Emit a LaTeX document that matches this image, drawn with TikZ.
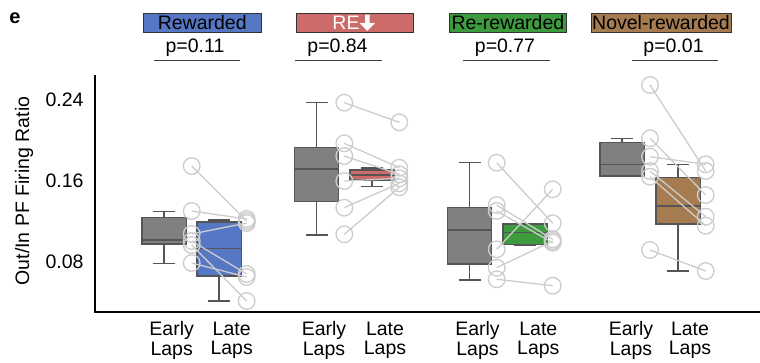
\documentclass[tikz,border=0pt]{standalone}
\usepackage{fontspec}
\setmainfont{Liberation Sans}
\definecolor{boxgray}{HTML}{808080}
\definecolor{edgegray}{HTML}{555555}
\definecolor{rewblue}{HTML}{5677C4}
\definecolor{rered}{HTML}{CD6B6B}
\definecolor{regreen}{HTML}{3D9A3D}
\definecolor{novbrown}{HTML}{A67B50}
\definecolor{dotgray}{HTML}{CCCCCC}
\newcommand\myfont{\fontsize{19.5}{19.4}\selectfont}
\newcommand\bplot[7]{%
  \draw[whisk] (#1,#5) -- (#1,#2) (#1,#3) -- (#1,#6)
    (#1-11,#5) -- (#1+11,#5) (#1-11,#6) -- (#1+11,#6);
  \draw[bx,fill=#7] (#1-22.2,#2) rectangle (#1+22.2,#3);
  \draw[whisk] (#1-22.2,#4) -- (#1+22.2,#4);
}
\newcommand\dpair[5]{%
  \node[dot] (#1e) at (#2,#3) {};
  \node[dot] (#1l) at (#4,#5) {};
  \draw[conn] (#1e.center) -- (#1l.center);
}
\begin{document}
\begin{tikzpicture}[x=1pt,y=-1pt,
  whisk/.style={draw=edgegray,line width=1.4pt},
  bx/.style={draw=edgegray,line width=1.4pt},
  dot/.style={circle,draw=dotgray,line width=1.3pt,minimum size=16.6pt,inner sep=0pt},
  conn/.style={draw=dotgray,line width=1.3pt},
  hdr/.style={draw=black!80,line width=0.8pt,minimum width=#1,minimum height=19.4pt,inner sep=0pt,font=\myfont},
  ptxt/.style={font=\myfont,anchor=base},
  pline/.style={draw=black!75,line width=1.4pt},
  tick/.style={font=\myfont,anchor=east},
  xlab/.style={font=\myfont,align=center,inner sep=0pt}]
\useasboundingbox (0,0) rectangle (760,362);

% panel letter
\node[font=\fontsize{20}{20}\selectfont\bfseries] (letter) at (15,18) {e};

% axes
\coordinate (ytop) at (95,75);
\coordinate (orig) at (95,312);
\coordinate (xend) at (760,312);
\draw[line width=1.5pt] (ytop) -- (orig) -- (xend);

% y ticks
\node[tick] (t24) at (87,100) {0.24};
\node[tick] (t16) at (87,181) {0.16};
\node[tick] (t08) at (87,262) {0.08};
\node[font=\myfont,rotate=90] (ylab) at (24,191) {Out/In PF Firing Ratio};

% headers
\node[hdr=117.7pt,fill=rewblue] (h1) at (202.2,23) {Rewarded};
\node[hdr=117pt,fill=rered] (h2) at (354.5,23) {};
\node[font=\myfont,text=white,inner sep=0pt] (h2t) at (346,23) {RE};
\fill[white] (365,14.5) -- (369.5,14.5) -- (369.5,23) -- (375,23) -- (367.25,31) -- (359.5,23) -- (365,23) -- cycle;
\node[hdr=117.7pt,fill=regreen] (h3) at (507.9,23) {Re-rewarded};
\node[hdr=140pt,fill=novbrown] (h4) at (661,23) {Novel-rewarded};

% p values
\node[ptxt] (p1) at (195,52.5) {p=0.11};
\node[ptxt] (p2) at (337.5,52.5) {p=0.84};
\node[ptxt] (p3) at (505,52.5) {p=0.77};
\node[ptxt] (p4) at (673.5,52.5) {p=0.01};
\draw[pline] (154,60.7) -- (240,60.7);
\draw[pline] (295,60.7) -- (382,60.7);
\draw[pline] (463,60.7) -- (550,60.7);
\draw[pline] (632,60.7) -- (718,60.7);

% box plots
\bplot{164}{217.3}{244}{240}{211.7}{263.3}{boxgray}
\bplot{219}{222}{276}{248.3}{220}{301}{rewblue}
\bplot{316.5}{147.3}{201.7}{169}{102.7}{235}{boxgray}
\bplot{372}{170}{180}{175}{168}{186.7}{rered}
\bplot{469.5}{207.7}{264}{230}{162.7}{280}{boxgray}
\bplot{525}{224}{244.3}{232.7}{223.5}{245}{regreen}
\bplot{622}{142.7}{176}{164.3}{138.3}{176.7}{boxgray}
\bplot{678}{177.3}{224}{206}{164.3}{271}{novbrown}

% paired dots
\dpair{a1}{191.7}{166}{246.7}{221}
\dpair{a2}{191.7}{211}{246.7}{219}
\dpair{a3}{191.7}{234}{246.7}{223}
\dpair{a4}{191.7}{241}{246.7}{274}
\dpair{a5}{191.7}{245}{246.7}{301}
\dpair{a6}{191.7}{263}{246.7}{277}

\dpair{b1}{344.3}{102.7}{399.3}{122.3}
\dpair{b2}{344.3}{143.3}{399.3}{167.7}
\dpair{b3}{344.3}{156}{399.3}{174.3}
\dpair{b4}{344.3}{181}{399.3}{178.3}
\dpair{b5}{344.3}{207.7}{399.3}{183.3}
\dpair{b6}{344.3}{234.3}{399.3}{187.3}

\dpair{c1}{496.7}{162.7}{552.7}{223.3}
\dpair{c2}{496.7}{205}{552.7}{239.3}
\dpair{c3}{496.7}{211}{552.7}{242.7}
\dpair{c4}{496.7}{249.3}{552.7}{189.3}
\dpair{c5}{496.7}{267.7}{552.7}{241}
\dpair{c6}{496.7}{279.3}{552.7}{285.7}

\dpair{d1}{650}{85}{705.7}{171}
\dpair{d2}{650}{138.3}{705.7}{195}
\dpair{d3}{650}{156.7}{705.7}{164.3}
\dpair{d4}{650}{171}{705.7}{216.7}
\dpair{d5}{650}{176.7}{705.7}{225.7}
\dpair{d6}{650}{250}{705.7}{271}

% x labels
\node[xlab] (e1) at (171.7,340.5) {Early\\Laps};
\node[xlab] (l1) at (231.7,340.5) {Late\\Laps};
\node[xlab] (e2) at (324,340.5) {Early\\Laps};
\node[xlab] (l2) at (385,340.5) {Late\\Laps};
\node[xlab] (e3) at (477.5,340.5) {Early\\Laps};
\node[xlab] (l3) at (538.3,340.5) {Late\\Laps};
\node[xlab] (e4) at (631,340.5) {Early\\Laps};
\node[xlab] (l4) at (690,340.5) {Late\\Laps};
\end{tikzpicture}
\end{document}
